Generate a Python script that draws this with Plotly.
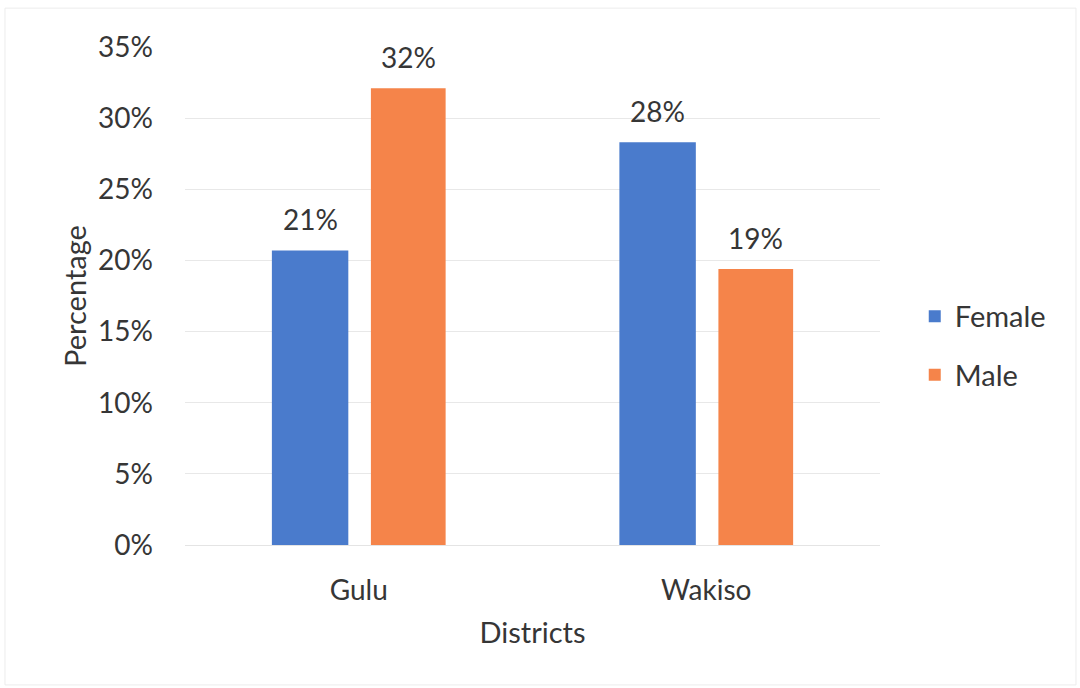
import plotly.graph_objects as go

# Share of respondents by district and sex
districts = ["Gulu", "Wakiso"]
female = [0.207, 0.283]
male = [0.321, 0.194]

BLUE = "#4A7BCC"
ORANGE = "#F5844A"
TEXT = "#363636"
FONT = "Lato"

x_pos = list(range(len(districts)))

fig = go.Figure()
series = [
    ("Female", female, BLUE, -0.25, 0.22),
    ("Male", male, ORANGE, 0.035, 0.215),
]
for name, vals, color, off, w in series:
    fig.add_trace(go.Bar(
        name=name, x=x_pos, y=vals,
        offset=off, width=w,
        marker=dict(color=color, line=dict(width=0)),
        legendgroup=name,
        hoverinfo="skip",
    ))
    # value labels above each bar
    for xi, v in zip(x_pos, vals):
        fig.add_annotation(
            x=xi + off + w / 2, y=v, text=f"{v:.0%}",
            showarrow=False, yanchor="bottom", yshift=12,
            font=dict(family=FONT, size=28, color=TEXT),
        )

fig.update_layout(
    width=1080, height=688,
    margin=dict(l=185, r=200, t=47, b=143),
    paper_bgcolor="white", plot_bgcolor="white",
    font=dict(family=FONT, size=28, color=TEXT),
    showlegend=True,
    legend=dict(
        x=1.05, xanchor="left", xref="paper",
        y=0.40, yanchor="middle",
        font=dict(family=FONT, size=29, color=TEXT),
        tracegroupgap=18,
        itemwidth=30,
    ),
    xaxis=dict(
        range=[-0.5, 1.5],
        tickvals=x_pos, ticktext=districts,
        showgrid=False, zeroline=False,
        showline=True, linecolor="#e4e4e4", linewidth=1,
        ticks="", ticklabelstandoff=20,
        tickfont=dict(family=FONT, size=28, color=TEXT),
        title=dict(text="Districts", standoff=18,
                   font=dict(family=FONT, size=29, color=TEXT)),
    ),
    yaxis=dict(
        range=[0, 0.35], dtick=0.05, tickformat=".0%",
        showgrid=True, gridcolor="#e8e8e8", gridwidth=1,
        zeroline=False, showline=False,
        ticks="", ticklabelstandoff=31,
        tickfont=dict(family=FONT, size=28, color=TEXT),
        title=dict(text="Percentage", standoff=2,
                   font=dict(family=FONT, size=29, color=TEXT)),
    ),
    shapes=[dict(
        type="rect", xref="paper", yref="paper",
        x0=-0.259, x1=1.282, y0=-0.281, y1=1.078,
        line=dict(color="#ececec", width=1),
    )],
)

fig.write_html("out.html")
